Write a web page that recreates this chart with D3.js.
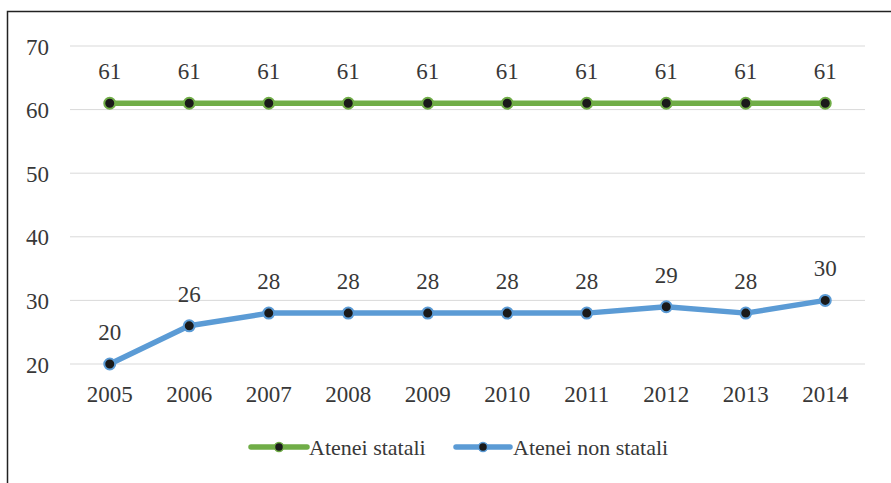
<!DOCTYPE html>
<html><head><meta charset="utf-8">
<script src="https://cdn.jsdelivr.net/npm/d3@7/dist/d3.min.js"></script>
<style>html,body{margin:0;padding:0;background:#fff;overflow:hidden}
svg text{font-family:"Liberation Serif","Tinos","Times New Roman","DejaVu Serif",serif;}</style>
</head><body>
<svg id="c" width="891" height="483"></svg>
<script>
const years = ["2005","2006","2007","2008","2009","2010","2011","2012","2013","2014"];
const statali = [61,61,61,61,61,61,61,61,61,61];
const nonStatali = [20,26,28,28,28,28,28,29,28,30];
const yTicks = [20,30,40,50,60,70];
const seriesNames = ["Atenei statali","Atenei non statali"];
const colors = ["#70ad47","#5b9bd5"];

const svg = d3.select("#c");
const textColor = "#383838";
const fs = 23;

svg.append("rect").attr("x",7.5).attr("y",11.5).attr("width",950).attr("height",600)
  .attr("fill","none").attr("stroke","#222").attr("stroke-width",1.5);

const x = d3.scaleBand().domain(years).range([70,865]);
const y = d3.scaleLinear().domain([20,70]).range([364,46]);

svg.append("g").selectAll("line").data(yTicks).join("line")
  .attr("x1",70).attr("x2",865).attr("y1",d=>y(d)).attr("y2",d=>y(d))
  .attr("stroke","#d9d9d9").attr("stroke-width",1);

const yAxis = d3.axisLeft(y).tickValues(yTicks).tickSize(0).tickPadding(0);
const gy = svg.append("g").attr("transform","translate(49,0)").call(yAxis);
gy.select(".domain").remove();
gy.attr("font-family",null);
gy.selectAll("text").attr("font-size",fs).attr("fill",textColor).attr("dy","0.35em");

const xAxis = d3.axisBottom(x).tickSize(0).tickPadding(0);
const gx = svg.append("g").attr("transform","translate(0,394)").call(xAxis);
gx.select(".domain").remove();
gx.attr("font-family",null);
gx.selectAll("text").attr("font-size",fs).attr("fill",textColor).attr("dy","0.35em");

const cx = d => x(d) + x.bandwidth()/2;
const line = d3.line().x(d=>cx(d.year)).y(d=>y(d.v));

[statali, nonStatali].forEach((vals,i)=>{
  const data = years.map((yr,j)=>({year:yr, v:vals[j]}));
  svg.append("path").datum(data).attr("d",line).attr("fill","none")
    .attr("stroke",colors[i]).attr("stroke-width",5.5).attr("stroke-linejoin","round").attr("stroke-linecap","round");
  svg.append("g").selectAll("circle").data(data).join("circle")
    .attr("cx",d=>cx(d.year)).attr("cy",d=>y(d.v)).attr("r",5.5)
    .attr("fill","#1a1a1a").attr("stroke",colors[i]).attr("stroke-width",2);
  svg.append("g").selectAll("text").data(data).join("text")
    .attr("x",d=>cx(d.year)).attr("y",d=>y(d.v)-32).attr("dy","0.35em")
    .attr("text-anchor","middle").attr("font-size",fs).attr("fill",textColor)
    .text(d=>d.v);
});

const legendItems = [{x1:251,x2:307,tx:309},{x1:456,x2:510,tx:513}];
legendItems.forEach((l,i)=>{
  const g = svg.append("g");
  g.append("line").attr("x1",l.x1).attr("x2",l.x2).attr("y1",447).attr("y2",447)
    .attr("stroke",colors[i]).attr("stroke-width",5.5).attr("stroke-linecap","round");
  g.append("circle").attr("cx",(l.x1+l.x2)/2).attr("cy",447).attr("r",4.5)
    .attr("fill","#1a1a1a").attr("stroke",colors[i]).attr("stroke-width",1.5);
  g.append("text").attr("x",l.tx).attr("y",447).attr("dy","0.35em")
    .attr("font-size",22).attr("fill",textColor).text(seriesNames[i]);
});
</script>
</body></html>
